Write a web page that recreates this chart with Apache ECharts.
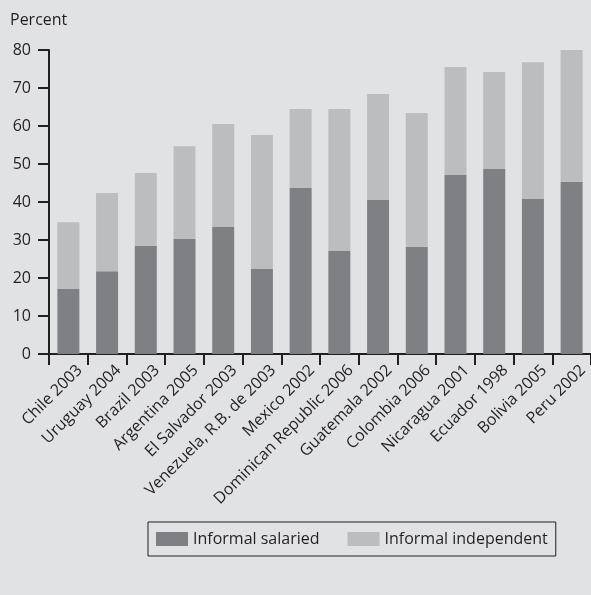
<!DOCTYPE html>
<html>
<head>
<meta charset="utf-8">
<script src="https://cdn.jsdelivr.net/npm/echarts@6/dist/echarts.min.js"></script>
<style>
html,body{margin:0;padding:0;background:#e1e2e4;}
#chart{width:591px;height:595px;}
</style>
</head>
<body>
<div id="chart"></div>
<script>
const categories = ["Chile 2003","Uruguay 2004","Brazil 2003","Argentina 2005","El Salvador 2003","Venezuela, R.B. de 2003","Mexico 2002","Dominican Republic 2006","Guatemala 2002","Colombia 2006","Nicaragua 2001","Ecuador 1998","Bolivia 2005","Peru 2002"];
const totals = [34.7,42.4,47.6,54.7,60.5,57.6,64.5,64.5,68.4,63.4,75.5,74.2,76.8,80.3];
const informalSalaried = [17.1,21.8,28.4,30.3,33.4,22.4,43.7,27.1,40.5,28.2,47.1,48.7,40.8,45.3];
const informalIndependent = totals.map((t,i)=>+(t-informalSalaried[i]).toFixed(1));
const yTicks = [0,10,20,30,40,50,60,70,80];

const font = "'Open Sans', 'Noto Sans', sans-serif";
const axisColor = '#231f20';
const chart = echarts.init(document.getElementById('chart'));
chart.setOption({
  backgroundColor: '#e1e2e4',
  animation: false,
  textStyle: {fontFamily: font},
  grid: {left: 49, top: 50, width: 546, height: 304, containLabel: false},
  legend: {
    left: 148, top: 522,
    data: ['Informal salaried','Informal independent'],
    icon: 'rect', itemWidth: 32, itemHeight: 14, itemGap: 28,
    borderColor: axisColor, borderWidth: 1, padding: [9, 8, 9, 8],
    textStyle: {fontFamily: font, fontSize: 16, color: axisColor}
  },
  xAxis: {
    type: 'category', data: categories,
    axisLine: {lineStyle: {color: axisColor, width: 2}},
    axisTick: {show: true, length: 11, lineStyle: {color: axisColor, width: 2}},
    axisLabel: {rotate: 45, interval: 0, fontSize: 16, color: axisColor, fontFamily: font, margin: 25, padding: [0, -16, 0, 0]}
  },
  yAxis: {
    type: 'value', min: yTicks[0], max: yTicks[yTicks.length-1], interval: 10,
    name: 'Percent', nameLocation: 'end', nameGap: 0,
    nameTextStyle: {fontSize: 16, color: axisColor, fontFamily: font, align: 'left', padding: [0,0,22,-39]},
    axisLine: {show: true, lineStyle: {color: axisColor, width: 2}},
    axisTick: {show: true, length: 11, lineStyle: {color: axisColor, width: 2}},
    axisLabel: {fontSize: 16, color: axisColor, fontFamily: font, margin: 18},
    splitLine: {show: false}
  },
  series: [
    {name: 'Informal salaried', type: 'bar', stack: 'a', data: informalSalaried, barWidth: 22, itemStyle: {color: '#7f8083'}},
    {name: 'Informal independent', type: 'bar', stack: 'a', data: informalIndependent, barWidth: 22, itemStyle: {color: '#bcbdbf'}}
  ]
});
</script>
</body>
</html>
